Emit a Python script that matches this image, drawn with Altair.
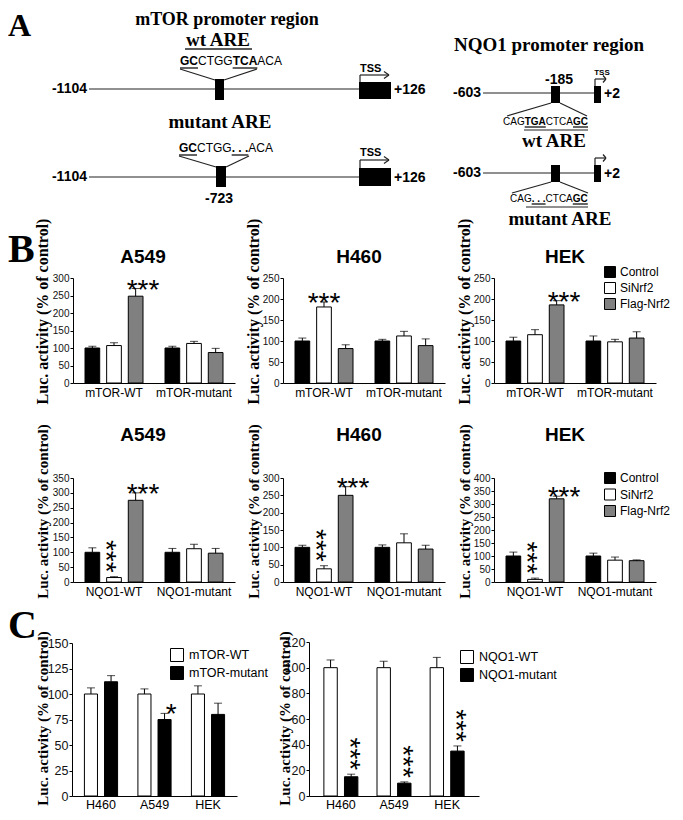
import altair as alt
import pandas as pd

# ===================== DATA =====================
treatments = ["Control", "SiNrf2", "Flag-Nrf2"]
treatment_colors = ["#000000", "#ffffff", "#808080"]
mtor_constructs = ["mTOR-WT", "mTOR-mutant"]
nqo1_constructs = ["NQO1-WT", "NQO1-mutant"]
cell_titles_b = ["A549", "H460", "HEK"]

# Panel B, top row (order: WT Control/SiNrf2/Flag, mutant Control/SiNrf2/Flag)
mtor_a549 = [100, 107, 248, 100, 113, 87]
mtor_a549_err = [5, 8, 22, 5, 6, 12]
mtor_h460 = [100, 181, 82, 100, 112, 89]
mtor_h460_err = [7, 12, 9, 4, 11, 16]
mtor_hek = [100, 115, 186, 100, 98, 107]
mtor_hek_err = [9, 12, 10, 12, 6, 15]
mtor_a549_sig = ["", "", "***", "", "", ""]
mtor_h460_sig = ["", "***", "", "", "", ""]
mtor_hek_sig = ["", "", "***", "", "", ""]
mtor_ymax = [300, 250, 250]

# Panel B, bottom row
nqo1_a549 = [100, 15, 275, 100, 112, 97]
nqo1_a549_err = [15, 3, 25, 13, 15, 16]
nqo1_h460 = [100, 38, 250, 100, 113, 95]
nqo1_h460_err = [6, 9, 25, 7, 26, 11]
nqo1_hek = [100, 10, 320, 100, 84, 82]
nqo1_hek_err = [15, 5, 10, 11, 12, 3]
nqo1_sig = ["", "***", "***", "", "", ""]
nqo1_sig_stacked = [False, True, False, False, False, False]
nqo1_ymax = [350, 300, 400]

# Panel C
cell_lines_c = ["H460", "A549", "HEK"]
c_mtor_series = ["mTOR-WT", "mTOR-mutant"]
c_mtor_wt = [100, 100, 100]
c_mtor_wt_err = [6, 5, 8]
c_mtor_mut = [112, 75, 80]
c_mtor_mut_err = [6, 6, 11]
c_mtor_mut_sig = ["", "*", ""]
c_nqo1_series = ["NQO1-WT", "NQO1-mutant"]
c_nqo1_wt = [100, 100, 100]
c_nqo1_wt_err = [6, 5, 8]
c_nqo1_mut = [15, 10, 35]
c_nqo1_mut_err = [2, 1, 4]
c_nqo1_mut_sig = ["***", "***", "***"]

# ===================== LAYOUT / STYLE =====================
W, H = 667, 804
SANS = "Liberation Sans"
SERIF = "Liberation Serif"
YTITLE = "Luc. activity (% of control)"


def P(v):
    """reference page pixel -> chart pixel (8px page margin)"""
    return v - 8


def bar_df(groups, sers, vals, errs, sig=None, stacked=None):
    rows = []
    k = 0
    for g in groups:
        for s in sers:
            sg = sig[k] if sig else ""
            st = stacked[k] if stacked else False
            rows.append({"grp": g, "ser": s, "value": vals[k], "err": errs[k],
                         "top": vals[k] + errs[k],
                         "sig_h": "" if st else sg,
                         "sig_v": sg if st else ""})
            k += 1
    return pd.DataFrame(rows)


def interleave(a, b):
    out = []
    for x, y in zip(a, b):
        out += [x, y]
    return out


def bar_panel(df, groups, sers, colors, ymax, ystep, xr, yr, pads, ytitle_xy,
              legend=None, tick_size=10, x_size=12, title_size=15, xlab_pad=4,
              star_size=28):
    """returns a flat list of layers (each with its own identical scales)"""
    pad_o, pad_i, off_pad = pads

    def xs():
        return alt.Scale(domain=groups, range=[P(xr[0]), P(xr[1])],
                         paddingInner=pad_i, paddingOuter=pad_o)

    def os_():
        return alt.Scale(domain=sers, paddingInner=off_pad, paddingOuter=0)

    def ys():
        return alt.Scale(domain=[0, ymax], range=[P(yr[0]), P(yr[1])], nice=False)

    xaxis = alt.Axis(orient="bottom", offset=P(yr[0]) - H, title=None, ticks=False,
                     labelAngle=0, labelFont=SANS, labelFontSize=x_size,
                     labelColor="black", labelPadding=xlab_pad, domainColor="black",
                     domainWidth=1, grid=False, labelOverlap=False)
    yaxis = alt.Axis(orient="left", offset=-P(xr[0]),
                     values=list(range(0, ymax + 1, ystep)),
                     title=YTITLE, titleFont=SERIF, titleFontSize=title_size,
                     titleFontWeight="bold", titleColor="black",
                     titleX=ytitle_xy[0] - xr[0], titleY=P(ytitle_xy[1]),
                     titleAngle=270, titleAlign="center", titleBaseline="middle",
                     labelFont=SANS, labelFontSize=tick_size, labelColor="#111",
                     labelPadding=1, tickSize=3, tickColor="black",
                     domainColor="black", domainWidth=1, grid=False,
                     labelOverlap=False)

    def enc(axis_on=False):
        return dict(x=alt.X("grp:N", scale=xs(), sort=groups,
                            axis=xaxis if axis_on else None),
                    xOffset=alt.XOffset("ser:N", scale=os_(), sort=sers))

    base = alt.Chart(df)
    bars = base.mark_bar(stroke="black", strokeWidth=1).encode(
        **enc(True),
        y=alt.Y("value:Q", scale=ys(), axis=yaxis),
        fill=alt.Fill("ser:N", scale=alt.Scale(domain=sers, range=colors),
                      sort=sers, legend=legend),
    )
    rule = base.mark_rule(color="black", strokeWidth=1).encode(
        **enc(), y=alt.Y("value:Q", scale=ys(), axis=None), y2="top:Q")
    cap = base.mark_tick(color="black", thickness=1, size=8).encode(
        **enc(), y=alt.Y("top:Q", scale=ys(), axis=None))
    star_h = base.transform_filter("datum.sig_h != ''").mark_text(
        font=SANS, fontSize=star_size, baseline="alphabetic", dy=10,
        color="black").encode(
        **enc(), y=alt.Y("top:Q", scale=ys(), axis=None), text="sig_h:N")
    # stacked asterisks: the same "***" string, turned upright above the bar
    star_v = base.transform_filter("datum.sig_v != ''").mark_text(
        font=SANS, fontSize=star_size, angle=90, align="right", baseline="middle",
        dx=-4, dy=9, color="black").encode(
        **enc(), y=alt.Y("top:Q", scale=ys(), axis=None), text="sig_v:N")
    return [bars, rule, cap, star_h, star_v]


def legend_at(x, y, row_pad, size=12, sym=121, off=4):
    return alt.Legend(orient="none", legendX=P(x), legendY=P(y), title=None,
                      symbolType="square", symbolSize=sym,
                      symbolStrokeColor="black", symbolStrokeWidth=1,
                      labelFont=SANS, labelFontSize=size, labelColor="black",
                      rowPadding=row_pad, labelOffset=off, padding=0)


# ---------- panel B ----------
COLS_X = [(73, 235), (283, 445), (494, 656)]
ROW1_Y = (383, 278)
ROW2_Y = (582, 478)
B_PADS = (0.15, 0.275, 0.32)
ytitle_x_b = [42, 253, 464]

mtor_vals = [mtor_a549, mtor_h460, mtor_hek]
mtor_errs = [mtor_a549_err, mtor_h460_err, mtor_hek_err]
mtor_sigs = [mtor_a549_sig, mtor_h460_sig, mtor_hek_sig]
nqo1_vals = [nqo1_a549, nqo1_h460, nqo1_hek]
nqo1_errs = [nqo1_a549_err, nqo1_h460_err, nqo1_hek_err]

panels = []
for i in range(3):
    df = bar_df(mtor_constructs, treatments, mtor_vals[i], mtor_errs[i], mtor_sigs[i])
    panels += bar_panel(df, mtor_constructs, treatments, treatment_colors,
                        mtor_ymax[i], 50, COLS_X[i], ROW1_Y, B_PADS,
                        (ytitle_x_b[i], 311), title_size=16,
                        legend=legend_at(604, 266, 0) if i == 2 else None)
for i in range(3):
    df = bar_df(nqo1_constructs, treatments, nqo1_vals[i], nqo1_errs[i],
                nqo1_sig, nqo1_sig_stacked)
    panels += bar_panel(df, nqo1_constructs, treatments, treatment_colors,
                        nqo1_ymax[i], 50, COLS_X[i], ROW2_Y, B_PADS,
                        (ytitle_x_b[i], 511), title_size=15,
                        legend=legend_at(604, 472, 0.5) if i == 2 else None)

# ---------- panel C ----------
df_cm = bar_df(cell_lines_c, c_mtor_series, interleave(c_mtor_wt, c_mtor_mut),
               interleave(c_mtor_wt_err, c_mtor_mut_err),
               interleave([""] * 3, c_mtor_mut_sig))
panels += bar_panel(df_cm, cell_lines_c, c_mtor_series, ["#ffffff", "#000000"],
                    150, 25, (72, 237), (796, 643), (0.232, 0.38, 0.35),
                    (42, 718), legend=legend_at(170, 648, 0, 12.5, 169, 5),
                    tick_size=12.5, x_size=12.5, title_size=15, xlab_pad=2)
df_cn = bar_df(cell_lines_c, c_nqo1_series, interleave(c_nqo1_wt, c_nqo1_mut),
               interleave(c_nqo1_wt_err, c_nqo1_mut_err),
               interleave([""] * 3, c_nqo1_mut_sig),
               interleave([False] * 3, [True] * 3))
panels += bar_panel(df_cn, cell_lines_c, c_nqo1_series, ["#ffffff", "#000000"],
                    120, 20, (309, 479), (796, 642), (0.28, 0.36, 0.35),
                    (284, 718), legend=legend_at(460, 650, 0, 12.5, 169, 5),
                    tick_size=12.5, x_size=12.5, title_size=15, xlab_pad=2)

# ===================== SCHEMATIC + ANNOTATIONS =====================
ann_text, ann_line, ann_rect = [], [], []


def T(style, x, y, s):
    ann_text.append(dict(style=style, x=P(x), y=P(y), t=s))


def L(x, y, x2, y2, w=1.2):
    ann_line.append(dict(x=P(x), y=P(y), x2=P(x2), y2=P(y2), w=w))


def R(x, y, x2, y2):
    ann_rect.append(dict(x=P(x), y=P(y), x2=P(x2), y2=P(y2)))


ARIAL = {"A": .667, "C": .722, "G": .778, "T": .611, ".": .278, " ": .278}
ARIAL_B = {"A": .722, "C": .722, "G": .778, "T": .611, ".": .278, " ": .278}


def seq(x0, y, segs, size, ul_y):
    x = x0
    style_n, style_b = ("seq12", "seq12b") if size == 12 else ("seq10", "seq10b")
    for s, bold in segs:
        w = sum((ARIAL_B if bold else ARIAL)[c] for c in s) * size
        T(style_b if bold else style_n, x, y, s)
        if bold:
            L(x, ul_y, x + w, ul_y, 1.4)
        x += w


def tss_arrow(x, ybox, yarr, xend, head=5):
    L(x, ybox, x, yarr)
    L(x, yarr, xend, yarr)
    L(xend - head, yarr - 3.5, xend, yarr)
    L(xend - head, yarr + 3.5, xend, yarr)


# panel letters
T("letterA", 8, 36, "A")
T("letter", 8, 262, "B")
T("letter", 8, 638, "C")
# panel B titles
for cx, name in zip([143, 359, 565], cell_titles_b):
    T("ptitle", cx, 263, name)
    T("ptitle", cx, 441, name)

# mTOR promoter
T("serif18", 227, 25, "mTOR promoter region")
T("serif19", 218, 46, "wt ARE")
L(185, 49, 252, 49, 1.5)
seq(180, 65, [("GC", True), ("CTGG", False), ("TCA", True), ("ACA", False)], 12, 68)
L(180, 69, 215, 80)
L(257, 69, 224, 80)
R(215, 79, 224, 100)
L(89, 89, 359, 89)
T("num14r", 87, 89, "-1104")
R(359, 82, 391, 99)
T("num14l", 394, 90, "+126")
tss_arrow(360, 82, 75, 389)
T("tss11", 360, 72, "TSS")

T("serif19", 220, 128, "mutant ARE")
seq(179, 152, [("GC", True), ("CTGG", False), (". . .", True), ("ACA", False)], 12, 155)
L(179, 156, 216, 167)
L(249, 156, 226, 167)
R(216, 166, 226, 187)
L(89, 177, 359, 177)
T("num14r", 87, 177, "-1104")
R(359, 168, 391, 186)
T("num14l", 394, 178, "+126")
tss_arrow(360, 168, 160, 389)
T("tss11", 360, 156, "TSS")
T("num14c", 219, 203, "-723")

# NQO1 promoter
T("serif19", 549, 51, "NQO1 promoter region")
L(483, 93, 594, 93)
T("num14r", 481, 93, "-603")
R(551, 86, 560, 103)
T("num14c", 559, 84, "-185")
R(594, 86, 601, 103)
T("num14l", 604, 94, "+2")
tss_arrow(595, 86, 79, 606, 3)
T("tss8", 602, 75, "TSS")
seq(503, 125, [("CAG", False), ("TGA", True), ("CTCA", False), ("GC", True)], 10, 127)
L(524, 130, 588, 130)
L(551, 103, 507, 116)
L(560, 103, 587, 116)
T("serif19", 554, 147, "wt ARE")

L(483, 173, 594, 173)
T("num14r", 481, 173, "-603")
R(551, 165, 560, 182)
R(594, 165, 601, 182)
T("num14l", 604, 174, "+2")
tss_arrow(595, 165, 158, 606, 3)
L(551, 182, 512, 193)
L(560, 182, 588, 193)
seq(510, 202, [("CAG", False), (". . .", True), ("CTCA", False), ("GC", True)], 10, 204)
L(526, 207, 588, 207)
T("serif19", 560, 225, "mutant ARE")

STYLES = {
    "letterA": dict(font=SERIF, fontSize=32, fontWeight="bold", align="left", baseline="alphabetic"),
    "letter": dict(font=SERIF, fontSize=40, fontWeight="bold", align="left", baseline="alphabetic"),
    "ptitle": dict(font=SANS, fontSize=19, fontWeight="bold", align="center", baseline="alphabetic"),
    "serif18": dict(font=SERIF, fontSize=18, fontWeight="bold", align="center", baseline="alphabetic"),
    "serif19": dict(font=SERIF, fontSize=19, fontWeight="bold", align="center", baseline="alphabetic"),
    "num14r": dict(font=SANS, fontSize=14, fontWeight="bold", align="right", baseline="middle"),
    "num14l": dict(font=SANS, fontSize=14, fontWeight="bold", align="left", baseline="middle"),
    "num14c": dict(font=SANS, fontSize=14, fontWeight="bold", align="center", baseline="alphabetic"),
    "tss11": dict(font=SANS, fontSize=11, fontWeight="bold", align="left", baseline="alphabetic"),
    "tss8": dict(font=SANS, fontSize=8, fontWeight="bold", align="center", baseline="alphabetic"),
    "seq12": dict(font=SANS, fontSize=12, align="left", baseline="alphabetic"),
    "seq12b": dict(font=SANS, fontSize=12, fontWeight="bold", align="left", baseline="alphabetic"),
    "seq10": dict(font=SANS, fontSize=10, align="left", baseline="alphabetic"),
    "seq10b": dict(font=SANS, fontSize=10, fontWeight="bold", align="left", baseline="alphabetic"),
}

ann_layers = []
ann_layers.append(alt.Chart(pd.DataFrame(ann_line)).mark_rule(color="#222").encode(
    x=alt.X("x:Q", scale=None), y=alt.Y("y:Q", scale=None),
    x2="x2:Q", y2="y2:Q", strokeWidth=alt.StrokeWidth("w:Q", scale=None)))
ann_layers.append(alt.Chart(pd.DataFrame(ann_rect)).mark_rect(color="black").encode(
    x=alt.X("x:Q", scale=None), y=alt.Y("y:Q", scale=None), x2="x2:Q", y2="y2:Q"))
df_text = pd.DataFrame(ann_text)
for key, st in STYLES.items():
    sub = df_text[df_text["style"] == key]
    if len(sub) == 0:
        continue
    ann_layers.append(alt.Chart(sub).mark_text(color="black", **st).encode(
        x=alt.X("x:Q", scale=None), y=alt.Y("y:Q", scale=None), text="t:N"))

chart = alt.layer(*panels, *ann_layers).resolve_scale(
    x="independent", y="independent", xOffset="independent", fill="independent"
).resolve_axis(x="independent", y="independent").resolve_legend(
    fill="independent"
).properties(
    width=W, height=H, autosize=alt.AutoSizeParams(type="none"), padding=0,
    background="white"
).configure_view(stroke="transparent")

chart.save("out.html", embed_options={"renderer": "svg", "actions": False})
